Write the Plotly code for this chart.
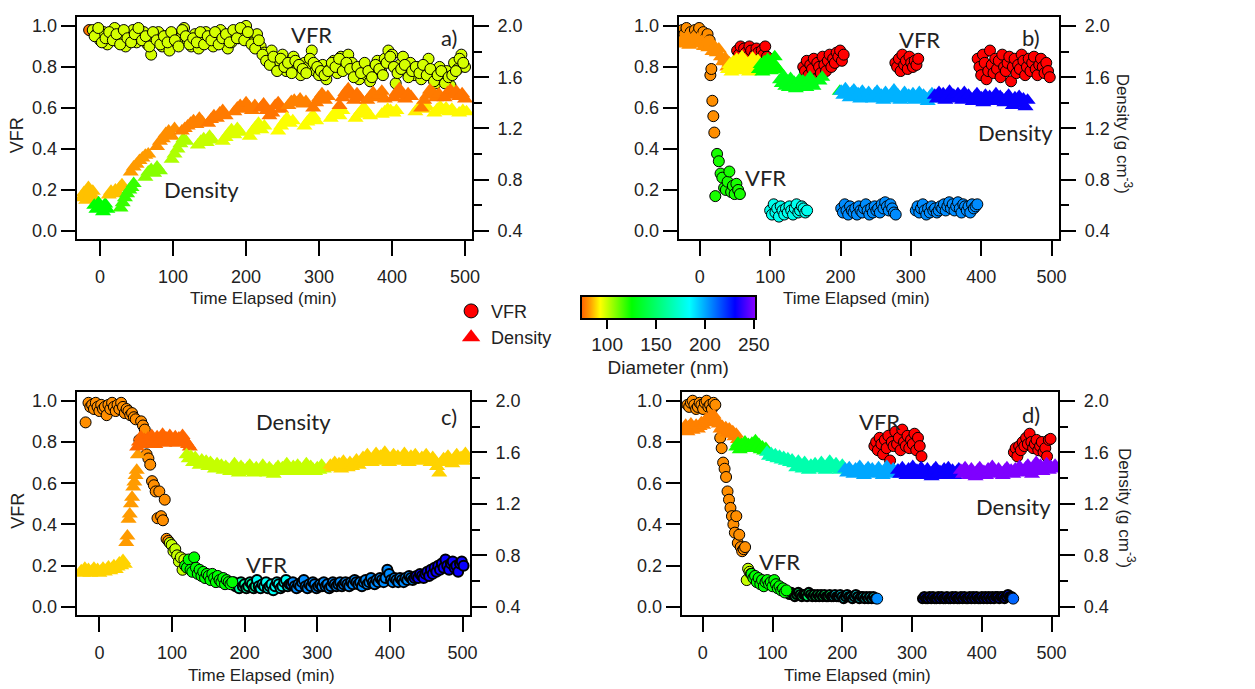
import plotly.graph_objects as go

# ---------------- colour scale (Diameter, nm) ----------------
CMIN, CMAX = 73, 252          # colour-bar range
BELOW = 53                     # data below CMIN are drawn red
BASE_SCALE = [(0.00, "rgb(255,95,0)"), (0.05, "rgb(255,155,0)"), (0.11, "rgb(255,255,0)"),
              (0.29, "rgb(0,255,0)"), (0.62, "rgb(0,255,255)"), (0.88, "rgb(0,0,255)"),
              (1.00, "rgb(140,0,255)")]
TICKS_D = [100, 150, 200, 250]

# ---------------- data: segments (start time, step, values, diameter) ----------------
# Panel a
A_VFR = [
    (-15, 5, [0.98], 76),
    (-10, 5, [0.98, 0.96, 0.93, 0.97, 0.91, 0.95, 0.99, 0.92, 0.96, 0.90,
              0.94, 0.98, 0.92, 0.95, 0.97, 0.91, 0.86, 0.94, 0.97, 0.90,
              0.95, 0.88, 0.96, 0.92, 0.94, 0.99, 0.93, 0.90, 0.96, 0.89,
              0.94, 0.97, 0.92, 0.90, 0.95, 0.98, 0.93, 0.89, 0.92, 0.96,
              0.94, 0.97, 1.00, 0.95, 0.92, 0.96, 0.90, 0.87, 0.84, 0.88,
              0.80, 0.83, 0.86, 0.78, 0.82, 0.85, 0.79, 0.76, 0.82, 0.80,
              0.88, 0.78, 0.76, 0.81, 0.74, 0.79, 0.83, 0.77, 0.85, 0.80,
              0.86, 0.82, 0.77, 0.74, 0.80, 0.76, 0.73, 0.79, 0.83, 0.78,
              0.84, 0.88, 0.86, 0.72, 0.81, 0.85, 0.78, 0.82, 0.76, 0.80,
              0.74, 0.78, 0.84, 0.76, 0.72, 0.80, 0.74, 0.78, 0.71, 0.82,
              0.79, 0.86, 0.80], 98),
    (-7.5, 5, [0.95, 0.99, 0.92, 0.94, 0.97, 0.93, 0.96, 0.91, 0.98, 0.94,
               0.92, 0.96, 0.99, 0.93, 0.95, 0.90, 0.97, 0.93, 0.91, 0.95,
               0.92, 0.97, 0.93, 0.90, 0.98, 0.95, 0.91, 0.94, 0.92, 0.97,
               0.91, 0.95, 0.93, 0.97, 0.91, 0.94, 0.96, 0.92, 0.98, 0.94,
               0.99, 0.93, 0.97, 0.91, 0.89, 0.93, 0.86, 0.83, 0.81, 0.85,
               0.78, 0.84, 0.80, 0.82, 0.77, 0.83, 0.81, 0.79, 0.77, 0.84,
               0.82, 0.80, 0.78, 0.76, 0.78, 0.82, 0.80, 0.84, 0.78, 0.82,
               0.79, 0.75, 0.80, 0.77, 0.82, 0.78, 0.75, 0.81, 0.79, 0.76,
               0.82, 0.85, 0.80, 0.77, 0.79, 0.81, 0.75, 0.78, 0.80, 0.77,
               0.81, 0.76, 0.79, 0.73, 0.76, 0.78, 0.72, 0.75, 0.76, 0.78,
               0.84, 0.82], 98),
]
A_DEN = [
    (-25, 3, [0.66, 0.70, 0.64, 0.74, 0.68, 0.71, 0.65], 86),
    (-8, 3, [0.60, 0.57, 0.62, 0.58, 0.55, 0.61, 0.57], 125),
    (12, 3, [0.68, 0.71, 0.69, 0.72, 0.70, 0.74, 0.76], 86),
    (28, 3, [0.58, 0.62, 0.66, 0.69, 0.72, 0.74, 0.77], 118),
    (42, 4, [0.86, 0.90, 0.92, 0.95, 0.97, 0.99, 1.00], 82),
    (62, 4, [0.82, 0.86, 0.88, 0.85, 0.90, 0.87], 108),
    (78, 4, [1.06, 1.10, 1.12, 1.16, 1.18, 1.14, 1.20], 80),
    (98, 4, [0.96, 1.00, 1.04, 1.08, 1.12, 1.10], 103),
    (112, 4, [1.18, 1.20, 1.22, 1.24, 1.26, 1.23, 1.28, 1.25], 78),
    (134, 4, [1.07, 1.10, 1.12, 1.09, 1.14, 1.11], 100),
    (148, 4, [1.24, 1.27, 1.30, 1.28, 1.32, 1.34, 1.30], 77),
    (168, 4, [1.10, 1.13, 1.16, 1.19, 1.15, 1.20, 1.17], 97),
    (184, 4, [1.33, 1.36, 1.38, 1.35, 1.40, 1.37, 1.34, 1.38], 77),
    (205, 4, [1.14, 1.18, 1.21, 1.24, 1.19, 1.22], 95),
    (220, 4, [1.36, 1.39, 1.34, 1.30, 1.32, 1.38, 1.40, 1.35], 76),
    (244, 4, [1.18, 1.22, 1.25, 1.28, 1.24, 1.26], 93),
    (258, 4, [1.38, 1.41, 1.42, 1.40, 1.43, 1.39, 1.41], 78),
    (280, 4, [1.22, 1.25, 1.28, 1.30, 1.26], 93),
    (292, 4, [1.36, 1.40, 1.44, 1.47, 1.42, 1.45], 77),
    (316, 4, [1.28, 1.31, 1.33, 1.30, 1.34], 93),
    (328, 4, [1.38, 1.44, 1.48, 1.51, 1.46, 1.42, 1.47, 1.44], 76),
    (350, 4, [1.28, 1.31, 1.34, 1.36, 1.32, 1.30], 92),
    (366, 4, [1.42, 1.45, 1.48, 1.44, 1.46, 1.49, 1.43], 77),
    (386, 4, [1.31, 1.33, 1.35, 1.34, 1.32, 1.34], 92),
    (402, 4, [1.44, 1.48, 1.51, 1.46, 1.43, 1.47, 1.45], 76),
    (432, 4, [1.33, 1.36, 1.38, 1.35, 1.37], 91),
    (440, 4, [1.36, 1.42, 1.46, 1.50, 1.48, 1.44, 1.47], 77),
    (458, 4, [1.32, 1.35, 1.37, 1.34, 1.36, 1.33, 1.35], 92),
    (472, 4, [1.44, 1.48, 1.50, 1.46, 1.49, 1.45, 1.47, 1.43], 76),
    (492, 5, [1.32, 1.34, 1.33], 92),
]

# Panel b
B_VFR = [
    (-25, 3, [0.98, 0.96, 0.99, 0.95, 0.97, 0.94, 0.98, 0.96, 0.99, 0.95, 0.97, 0.94, 0.96, 0.93], 80),
    (15, 1.4, [0.76, 0.79, 0.635, 0.56, 0.48], 80),
    (22, 2.5, [0.17, 0.376, 0.34, 0.28, 0.26, 0.21, 0.20, 0.24, 0.29, 0.19, 0.22, 0.18, 0.23, 0.20, 0.18], 122),
    (100, 2.5, [0.10, 0.08, 0.13, 0.09, 0.11, 0.07, 0.12, 0.10, 0.08, 0.11, 0.09, 0.12, 0.10, 0.08,
                0.11, 0.13, 0.09, 0.10, 0.12, 0.11, 0.09, 0.10], 180),
    (201, 2.5, [0.11, 0.09, 0.13, 0.10, 0.08, 0.12, 0.10, 0.09, 0.11, 0.08, 0.12, 0.10, 0.09, 0.11,
                0.13, 0.10, 0.08, 0.11, 0.09, 0.12, 0.10, 0.11, 0.09, 0.13, 0.11, 0.14, 0.12, 0.10,
                0.13, 0.11, 0.09, 0.08], 205),
    (307, 2.5, [0.10, 0.12, 0.09, 0.11, 0.13, 0.10, 0.08, 0.11, 0.09, 0.12, 0.10, 0.11, 0.09, 0.10,
                0.12, 0.11, 0.13, 0.10, 0.12, 0.14, 0.11, 0.13, 0.10, 0.12, 0.14, 0.11, 0.09, 0.13,
                0.12, 0.10, 0.12, 0.09, 0.13, 0.11, 0.12, 0.13], 205),
    (53, 2.5, [0.88, 0.86, 0.90, 0.84, 0.89, 0.87, 0.85, 0.90, 0.88, 0.83, 0.86, 0.89, 0.87, 0.84,
               0.88, 0.86, 0.90, 0.85, 0.82], 60),
    (147, 2.5, [0.80, 0.78, 0.83, 0.76, 0.81, 0.79, 0.84, 0.74, 0.82, 0.80, 0.77, 0.85, 0.81, 0.78,
                0.83, 0.86, 0.80, 0.84, 0.82, 0.87, 0.85, 0.88, 0.83, 0.86], 60),
    (278, 2.5, [0.82, 0.80, 0.84, 0.78, 0.86, 0.81, 0.83, 0.79, 0.85, 0.82, 0.80, 0.83, 0.81, 0.84], 60),
    (395, 2.5, [0.84, 0.80, 0.76, 0.86, 0.82, 0.74, 0.78, 0.88, 0.81, 0.77, 0.84, 0.79, 0.83, 0.75,
                0.86, 0.80, 0.78, 0.82, 0.85, 0.73, 0.80, 0.84, 0.77, 0.81, 0.79, 0.86, 0.83, 0.76,
                0.80, 0.84, 0.78, 0.82, 0.85, 0.79, 0.76, 0.81, 0.84, 0.80, 0.77, 0.82, 0.78, 0.75], 60),
]
B_DEN = [
    (-27, 3, [1.86, 1.90, 1.88, 1.92, 1.85, 1.89, 1.91, 1.87, 1.90, 1.86, 1.88, 1.84, 1.87, 1.83,
              1.86, 1.80, 1.84, 1.79, 1.82, 1.76, 1.72, 1.75, 1.68, 1.71, 1.66], 80),
    (40, 2.5, [1.66, 1.70, 1.64, 1.72, 1.68, 1.74, 1.65, 1.70, 1.76, 1.67, 1.72, 1.69, 1.64, 1.71,
               1.75, 1.66, 1.70, 1.73, 1.68, 1.65], 92),
    (84, 2.5, [1.66, 1.70, 1.64, 1.72, 1.67, 1.74, 1.69, 1.65, 1.71, 1.76, 1.68, 1.66], 125),
    (114, 2.5, [1.58, 1.55, 1.61, 1.53, 1.57, 1.52, 1.59, 1.54, 1.56, 1.51, 1.55, 1.58, 1.53, 1.57,
                1.54, 1.52, 1.56, 1.60, 1.55, 1.53], 130),
    (170, 4, [1.57, 1.60], 130),
    (199, 1, [1.49], 130),
    (201, 3, [1.49, 1.46, 1.51, 1.47, 1.44, 1.48, 1.50, 1.45, 1.47, 1.43, 1.49, 1.46, 1.44, 1.48,
              1.45, 1.43, 1.47, 1.49, 1.44, 1.46, 1.42, 1.48, 1.45, 1.43, 1.47, 1.50, 1.44, 1.46,
              1.42, 1.45, 1.48, 1.43, 1.46, 1.44, 1.47, 1.42, 1.45, 1.48, 1.43, 1.46, 1.44, 1.41,
              1.45, 1.47, 1.43], 198),
    (334, 3, [1.46, 1.43, 1.48, 1.44, 1.47, 1.42, 1.45, 1.49, 1.44, 1.46, 1.43, 1.47, 1.45, 1.42,
              1.48, 1.44, 1.46, 1.43, 1.41, 1.45, 1.47, 1.42, 1.44, 1.40, 1.46, 1.43, 1.45, 1.41,
              1.44, 1.47, 1.42, 1.45, 1.43, 1.40, 1.44, 1.46, 1.42, 1.38, 1.44, 1.41, 1.45, 1.39,
              1.43, 1.37, 1.42], 232),
]

# Panel c
C_VFR = [
    (-19, 1, [0.895], 80),
    (-15, 2.5, [0.99, 0.97, 0.98, 0.96, 0.99, 0.97, 0.95, 0.98, 0.96, 0.97, 0.93, 0.98, 0.96, 0.99,
                0.97, 0.95, 0.98, 0.96, 0.99, 0.97, 0.94, 0.96, 0.95, 0.93, 0.94, 0.92, 0.91], 80),
    (55, 2.5, [0.81, 0.90, 0.88, 0.86, 0.74, 0.72, 0.69, 0.61, 0.59, 0.56, 0.43, 0.56, 0.44, 0.42,
               0.52, 0.33, 0.32], 80),
    (97, 2.5, [0.31, 0.30, 0.27, 0.28, 0.25, 0.22, 0.24, 0.18, 0.23], 100),
    (118, 2.5, [0.20, 0.19, 0.23, 0.18, 0.17, 0.24, 0.19, 0.16, 0.18, 0.15, 0.17, 0.14, 0.16, 0.15,
                0.13, 0.16, 0.14, 0.12, 0.15, 0.13, 0.12, 0.14, 0.11, 0.13, 0.12, 0.11, 0.12], 125),
]
C_VFR_BAND = [
    (185, 2.5, [0.12, 0.10, 0.11, 0.09, 0.12, 0.10, 0.11, 0.09, 0.10, 0.12, 0.11, 0.09, 0.10], 165),
    (217, 2.5, [0.13, 0.10, 0.09, 0.11, 0.10, 0.12, 0.09, 0.10, 0.11, 0.08, 0.10, 0.12, 0.11, 0.09,
                0.10, 0.12, 0.13, 0.10, 0.11], 182),
    (264, 2.5, [0.11, 0.12, 0.10, 0.09, 0.11, 0.10, 0.12, 0.13, 0.10, 0.09,
                0.11, 0.10, 0.12, 0.11, 0.09, 0.10, 0.11, 0.10, 0.12, 0.10,
                0.11, 0.09, 0.10, 0.12, 0.11, 0.10, 0.11, 0.12, 0.10, 0.11,
                0.12, 0.11, 0.10, 0.12, 0.11, 0.13, 0.12, 0.11, 0.12, 0.10,
                0.12, 0.13, 0.11, 0.12, 0.14, 0.12, 0.11, 0.13, 0.12, 0.14,
                0.13, 0.12, 0.14, 0.18, 0.16, 0.13, 0.12, 0.14, 0.13, 0.12,
                0.14, 0.13, 0.12, 0.14, 0.13, 0.15, 0.14, 0.13], 205),
    (434, 2.5, [0.14, 0.15, 0.14, 0.16, 0.15, 0.14, 0.16, 0.17, 0.15, 0.18, 0.16, 0.19, 0.17, 0.20,
                0.18, 0.21, 0.19, 0.23, 0.20, 0.18, 0.21, 0.22, 0.19, 0.20, 0.17, 0.21, 0.22, 0.20], 232),
]
C_DEN = [
    (-25, 2.5, [0.68, 0.66, 0.70, 0.67, 0.69, 0.66, 0.68, 0.70, 0.67, 0.69, 0.66, 0.68, 0.70, 0.67,
                0.69, 0.71, 0.68, 0.70, 0.72, 0.69, 0.71, 0.74, 0.72, 0.76, 0.73], 88),
    (37, 1.6, [0.90, 0.95, 1.08, 1.12, 1.20, 1.25, 1.33, 1.37, 1.42, 1.46, 1.58], 82),
    (52, 2.5, [1.64, 1.68, 1.72, 1.66, 1.70, 1.67, 1.71, 1.68, 1.73, 1.69, 1.66, 1.72, 1.68, 1.70,
               1.74, 1.67, 1.71, 1.69, 1.73, 1.68, 1.70, 1.72, 1.67, 1.71, 1.69, 1.73, 1.70, 1.68,
               1.66, 1.64], 74),
    (120, 3, [1.58, 1.55, 1.57, 1.52, 1.56, 1.53, 1.50, 1.54, 1.51, 1.53,
              1.49, 1.52, 1.50, 1.47, 1.51, 1.48, 1.50, 1.46, 1.49, 1.47,
              1.45, 1.48, 1.51, 1.46, 1.44, 1.49, 1.47, 1.45, 1.48, 1.50,
              1.46, 1.44, 1.48, 1.45, 1.47, 1.50, 1.46, 1.44, 1.48, 1.46,
              1.43, 1.47, 1.49, 1.45, 1.48, 1.46, 1.51, 1.47, 1.45, 1.49,
              1.46, 1.50, 1.48, 1.45, 1.47, 1.51, 1.46, 1.49, 1.47, 1.45,
              1.48, 1.46, 1.50, 1.47], 100),
    (318, 3, [1.50, 1.48, 1.52, 1.49, 1.51, 1.47, 1.53, 1.50, 1.48, 1.52,
              1.49, 1.51, 1.54, 1.50, 1.52, 1.56, 1.53, 1.58, 1.55, 1.52,
              1.56, 1.59, 1.54, 1.57, 1.53, 1.60, 1.56, 1.52, 1.55, 1.58,
              1.54, 1.57, 1.53, 1.56, 1.59, 1.55, 1.52, 1.57, 1.54, 1.58,
              1.55, 1.53, 1.56, 1.54, 1.58, 1.55, 1.52, 1.56, 1.53, 1.49,
              1.44, 1.52, 1.55, 1.53, 1.57, 1.54, 1.51, 1.55, 1.58, 1.54,
              1.56, 1.53, 1.59, 1.55], 88),
]

# Panel d
D_VFR = [
    (-22, 2.5, [0.98, 0.97, 0.99, 1.00, 0.98, 0.96, 0.97, 0.99, 0.98, 0.96, 0.99, 1.00, 0.97, 0.98,
                0.96, 0.99, 0.98], 80),
    (25, 2.1, [0.82, 0.77, 0.70, 0.67, 0.63, 0.56, 0.52, 0.48, 0.44, 0.40, 0.36, 0.44, 0.31, 0.35,
               0.29, 0.27, 0.28, 0.29], 80),
    (63, 2, [0.13, 0.185, 0.17, 0.16], 100),
    (70, 2.5, [0.16, 0.14, 0.15, 0.12, 0.14, 0.11, 0.13, 0.10, 0.12, 0.13, 0.11, 0.12, 0.10, 0.13,
               0.11, 0.09, 0.10, 0.08, 0.09, 0.07, 0.08], 125),
    (246, 2.5, [0.78, 0.80, 0.76, 0.82, 0.79, 0.74, 0.81, 0.77, 0.83, 0.71, 0.80, 0.78, 0.85, 0.79,
                0.82, 0.76, 0.86, 0.80, 0.78, 0.83, 0.77, 0.81, 0.79, 0.84, 0.76, 0.82, 0.78, 0.73], 60),
    (446, 2.5, [0.75, 0.77, 0.73, 0.78, 0.76, 0.80, 0.78, 0.82, 0.79, 0.84, 0.80, 0.77, 0.79, 0.81,
                0.76, 0.78, 0.80, 0.75, 0.77, 0.73, 0.81, 0.815], 60),
    (250, 1, [0.04], 205),
    (445, 1, [0.04], 212),
]
D_VFR_BAND = [
    (122, 2.5, [0.07, 0.06, 0.07, 0.06, 0.05, 0.06, 0.07, 0.06, 0.05, 0.06, 0.06, 0.05, 0.07, 0.06,
                0.05, 0.06, 0.05, 0.06, 0.05, 0.06, 0.05, 0.06, 0.05, 0.05, 0.06, 0.05], 150),
    (187, 2.5, [0.05, 0.06, 0.05, 0.05, 0.06, 0.05, 0.04, 0.05, 0.06, 0.05, 0.05, 0.04, 0.05, 0.06,
                0.05, 0.04, 0.05, 0.05, 0.04, 0.05, 0.04, 0.05, 0.04, 0.05, 0.04, 0.04], 185),
    (315, 2.5, [0.04, 0.05, 0.04, 0.04, 0.05, 0.04, 0.05, 0.04, 0.04, 0.05, 0.04, 0.05, 0.04, 0.04,
                0.05, 0.04, 0.04, 0.05, 0.04, 0.05, 0.04, 0.04, 0.05, 0.04, 0.05, 0.04, 0.04, 0.05,
                0.04, 0.05, 0.04, 0.05, 0.04, 0.04, 0.05, 0.04, 0.05, 0.04, 0.05, 0.04, 0.05, 0.04,
                0.05, 0.05, 0.04, 0.05, 0.05, 0.04, 0.05, 0.06, 0.05, 0.05], 228),
]
D_DEN = [
    (-27, 2.5, [1.78, 1.81, 1.76, 1.80, 1.82, 1.77, 1.79, 1.81, 1.78, 1.80, 1.83, 1.81, 1.84, 1.86,
                1.83, 1.88, 1.85, 1.89, 1.86, 1.84, 1.82, 1.78, 1.80, 1.77, 1.79, 1.75, 1.78, 1.74,
                1.76, 1.72, 1.74, 1.70], 78),
    (48, 2.5, [1.64, 1.67, 1.62, 1.66, 1.65, 1.68, 1.63, 1.66, 1.64, 1.67, 1.65, 1.69, 1.63, 1.66,
               1.62, 1.64, 1.61, 1.63], 123),
    (92, 3, [1.60, 1.57, 1.59, 1.56, 1.58, 1.55, 1.57, 1.54, 1.56, 1.53,
             1.55, 1.52, 1.54, 1.51, 1.48, 1.53, 1.50, 1.47, 1.52, 1.49,
             1.46, 1.50, 1.48, 1.51, 1.47, 1.49, 1.52, 1.48, 1.46, 1.50,
             1.53, 1.49, 1.47, 1.51, 1.48, 1.46, 1.50, 1.47], 165),
    (204, 3, [1.47, 1.44, 1.48, 1.45, 1.43, 1.47, 1.44, 1.49, 1.45, 1.42, 1.46, 1.48, 1.44, 1.47,
              1.43, 1.45, 1.48, 1.44, 1.42, 1.46, 1.49, 1.45, 1.43, 1.47, 1.44, 1.46], 200),
    (280, 3, [1.46, 1.43, 1.48, 1.44, 1.42, 1.47, 1.45, 1.49, 1.43, 1.46, 1.42, 1.48, 1.45, 1.43,
              1.47, 1.44, 1.41, 1.46, 1.48, 1.43, 1.45, 1.42, 1.47, 1.44, 1.48, 1.43, 1.46, 1.42,
              1.45, 1.47], 232),
    (370, 3, [1.46, 1.43, 1.48, 1.45, 1.42, 1.47, 1.44, 1.41, 1.46, 1.48, 1.43, 1.45, 1.42, 1.47,
              1.44, 1.49, 1.45, 1.43, 1.47, 1.44, 1.42, 1.46, 1.48, 1.44, 1.46, 1.43, 1.47, 1.45,
              1.49, 1.46, 1.44, 1.48, 1.50, 1.46, 1.43, 1.48, 1.52, 1.47, 1.50, 1.45, 1.48, 1.51,
              1.46, 1.49, 1.47, 1.50], 250),
]

X_TICKS = [0, 100, 200, 300, 400, 500]
VFR_TICKS = [0.0, 0.2, 0.4, 0.6, 0.8, 1.0]
DEN_TICKS = [0.4, 0.8, 1.2, 1.6, 2.0]

# ---------------- layout geometry (pixels) ----------------
W, H = 1255, 689
PANELS = {
    "a": dict(px=(77, 475), py=(16, 239), xr=(-32.3, 509.5), yr=(-0.039, 1.044)),
    "b": dict(px=(683, 1066), py=(16, 239), xr=(-30.1, 510.9), yr=(-0.039, 1.044)),
    "c": dict(px=(77, 473), py=(393, 617), xr=(-31.5, 510.3), yr=(-0.041, 1.041)),
    "d": dict(px=(686, 1065), py=(393, 617), xr=(-30.3, 509.5), yr=(-0.041, 1.041)),
}
AXES = {"a": ("x", "y", "y5"), "b": ("x2", "y2", "y6"), "c": ("x3", "y3", "y7"), "d": ("x4", "y4", "y8")}
DATA = {"a": (A_VFR, A_DEN, []), "b": (B_VFR, B_DEN, []), "c": (C_VFR, C_DEN, C_VFR_BAND),
        "d": (D_VFR, D_DEN, D_VFR_BAND)}

# extended colour scale: red below CMIN
span = CMAX - BELOW
off = (CMIN - BELOW) / span
EXT_SCALE = [(0.0, "rgb(255,0,0)"), (off - 0.004, "rgb(255,0,0)")] + \
            [(off + f * (1 - off), c) for f, c in BASE_SCALE]


def expand(segs):
    t, v, d = [], [], []
    for t0, dt, vals, diam in segs:
        for i, val in enumerate(vals):
            t.append(t0 + dt * i)
            v.append(val)
            d.append(diam)
    return t, v, d


fig = go.Figure()
TXT = "#222222"
AX = "Liberation Sans"
TICKFONT = dict(family=AX, size=18, color=TXT)

for key, (vfr, den, band) in DATA.items():
    xa, ya, ya2 = AXES[key]
    t, v, d = expand(den)
    fig.add_trace(go.Scatter(x=t, y=v, mode="markers", xaxis=xa, yaxis=ya2, showlegend=False,
                             marker=dict(symbol="triangle-up", size=14, color=d, colorscale=EXT_SCALE,
                                         cmin=BELOW, cmax=CMAX, line=dict(width=0))))
    if band:
        t, v, d = expand(band)
        fig.add_trace(go.Scatter(x=t, y=v, mode="markers", xaxis=xa, yaxis=ya, showlegend=False,
                                 marker=dict(symbol="circle", size=10 if key == "c" else 9, color=d,
                                             colorscale=EXT_SCALE, cmin=BELOW, cmax=CMAX,
                                             line=dict(width=2.0 if key == "c" else 2.2, color="black"))))
    t, v, d = expand(vfr)
    fig.add_trace(go.Scatter(x=t, y=v, mode="markers", xaxis=xa, yaxis=ya, showlegend=False,
                             marker=dict(symbol="circle", size=11, color=d, colorscale=EXT_SCALE,
                                         cmin=BELOW, cmax=CMAX, line=dict(width=1, color="black"))))

# legend entries
fig.add_trace(go.Scatter(x=[None], y=[None], mode="markers", name="VFR", xaxis="x", yaxis="y",
                         marker=dict(symbol="circle", size=14, color="red", line=dict(width=1, color="black"))))
fig.add_trace(go.Scatter(x=[None], y=[None], mode="markers", name="Density", xaxis="x", yaxis="y",
                         marker=dict(symbol="triangle-up", size=16, color="red")))

# colour bar
fig.add_trace(go.Scatter(x=[None], y=[None], mode="markers", xaxis="x", yaxis="y", showlegend=False,
                         marker=dict(color=[CMIN, CMAX], colorscale=BASE_SCALE, cmin=CMIN, cmax=CMAX,
                                     showscale=True,
                                     colorbar=dict(orientation="h", x=672.5 / W, xanchor="center",
                                                   y=1 - 296 / H, yanchor="top", len=175, lenmode="pixels",
                                                   thickness=23, thicknessmode="pixels", xpad=0, ypad=0,
                                                   outlinewidth=2, outlinecolor="black",
                                                   ticks="outside", ticklen=9, tickwidth=2, tickcolor="black",
                                                   tickvals=TICKS_D,
                                                   tickfont=dict(family=AX, size=19, color=TXT),
                                                   title=dict(text="Diameter (nm)", side="bottom",
                                                              font=dict(family=AX, size=19, color=TXT))))))

layout = dict(width=W, height=H, margin=dict(l=0, r=0, t=0, b=0), paper_bgcolor="white",
              plot_bgcolor="white",
              legend=dict(x=454 / W, y=1 - 293 / H, xanchor="left", yanchor="top", bgcolor="rgba(0,0,0,0)",
                          font=dict(family=AX, size=18, color=TXT), tracegroupgap=0, itemwidth=30))

for key, p in PANELS.items():
    xa, ya, ya2 = AXES[key]
    xd = [p["px"][0] / W, p["px"][1] / W]
    yd = [1 - p["py"][1] / H, 1 - p["py"][0] / H]
    xname = "xaxis" + xa[1:]
    yname = "yaxis" + ya[1:]
    y2name = "yaxis" + ya2[1:]
    common = dict(showgrid=False, zeroline=False, showline=True, linewidth=2, linecolor="black",
                  ticks="outside", tickwidth=2, tickcolor="black", tickfont=TICKFONT)
    layout[xname] = dict(domain=xd, range=list(p["xr"]), anchor=ya, tickvals=X_TICKS, ticklen=15,
                         mirror=True, ticklabelstandoff=5, **common)
    layout[yname] = dict(domain=yd, range=list(p["yr"]), anchor=xa, tickvals=VFR_TICKS, tickformat=".1f",
                         ticklen=14, mirror=True, **common)
    lo, hi = p["yr"]
    layout[y2name] = dict(range=[0.4 + 1.6 * lo, 0.4 + 1.6 * hi], overlaying=ya, anchor=xa, side="right",
                          tickvals=DEN_TICKS, tickformat=".1f", ticklen=15,
                          minor=dict(tickvals=[0.6, 1.0, 1.4, 1.8], ticklen=8, tickwidth=2, tickcolor="black",
                                     ticks="outside"),
                          ticklabelstandoff=5, **common)

fig.update_layout(**layout)


def ann(text, px, py, size=22, family="Lato", angle=0):
    fig.add_annotation(text=text, x=px / W, y=1 - py / H, xref="paper", yref="paper", showarrow=False,
                       xanchor="center", yanchor="middle", textangle=angle,
                       font=dict(family=family, size=size, color=TXT))


# axis titles
for cx, cy in [(265, 299), (862, 299), (263, 677), (863, 677)]:
    ann("Time Elapsed (min)", cx, cy, size=17, family=AX)
ann("VFR", 18, 135, size=18, family=AX, angle=-90)
ann("VFR", 18, 512, size=18, family=AX, angle=-90)
ann("Density (g cm<sup>-3</sup>)", 1131, 133, size=17, family=AX, angle=90)
ann("Density (g cm<sup>-3</sup>)", 1134, 509, size=17, family=AX, angle=90)

# in-panel labels
ann("VFR", 313, 34)
ann("a)", 452, 37)
ann("Density", 203, 189)
ann("VFR", 925, 39)
ann("b)", 1038, 37)
ann("VFR", 770, 177)
ann("Density", 1022, 132)
ann("Density", 295, 422)
ann("c)", 452, 417)
ann("VFR", 268, 566)
ann("VFR", 885, 422)
ann("d)", 1038, 415)
ann("Density", 1020, 508)
ann("VFR", 785, 563)

fig.write_html("out.html")
